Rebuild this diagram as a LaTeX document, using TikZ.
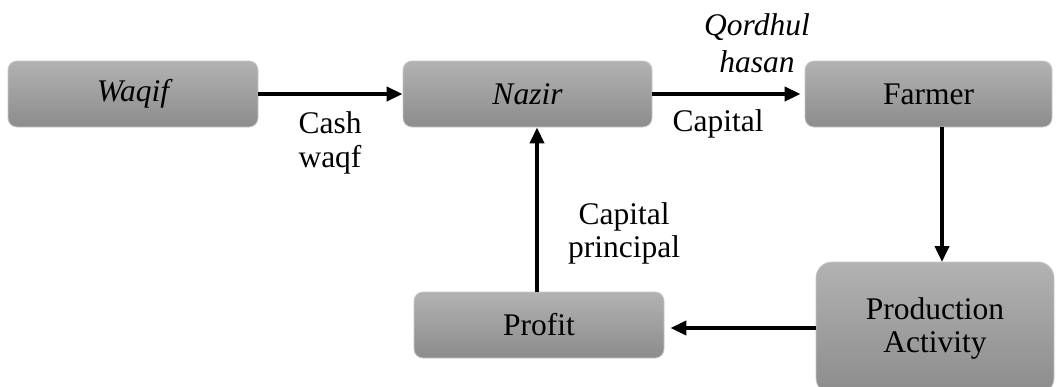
\documentclass[tikz,border=0pt]{standalone}
\usepackage{fontspec}
\setmainfont{Liberation Serif}
\usetikzlibrary{arrows.meta,calc}
\definecolor{boxtop}{HTML}{B2B2B2}
\definecolor{boxbot}{HTML}{8C8C8C}
\definecolor{boxedge}{HTML}{C6C6C6}
\tikzset{
  boxnode/.style={rectangle, rounded corners=9pt, top color=boxtop, bottom color=boxbot,
    draw=boxedge, line width=0.8pt, inner sep=0pt, align=center,
    font=\fontsize{31.5}{33}\selectfont},
  lbl/.style={inner sep=0pt, align=center, font=\fontsize{31.5}{33}\selectfont},
  flow/.style={line width=3.8pt, -{Triangle[length=16pt,width=14pt]}}
}
\begin{document}
\begin{tikzpicture}[x=1pt,y=-1pt]
\useasboundingbox (0,0) rectangle (1056,386);
\node[boxnode, minimum width=250pt, minimum height=66pt] (waqif) at (133,94) {\itshape Waqif};
\node[boxnode, minimum width=249pt, minimum height=66pt] (nazir) at (527.5,94) {\itshape Nazir};
\node[boxnode, minimum width=247pt, minimum height=66pt] (farmer) at (928.5,94) {Farmer};
\node[boxnode, minimum width=250pt, minimum height=66pt] (profit) at (539,325) {Profit};
\node[boxnode, rounded corners=16pt, minimum width=238pt, minimum height=132pt] (prod) at (935,328) {Production\\Activity};
\coordinate (fa) at (942,127);
\coordinate (pa) at (942,262);
\draw[flow] (waqif.east) -- (nazir.west);
\draw[flow] (nazir.east) -- ([xshift=-4pt]farmer.west);
\draw[flow] (fa) -- (pa);
\draw[flow] (prod.west |- 0,328) -- ([xshift=6pt]profit.east |- 0,328);
\draw[flow] (537,292) coordinate (pb) -- (pb |- nazir.south);
\node[lbl] (l1) at (330,143) {Cash\\[1pt]waqf};
\node[lbl] (l2) at (718,124) {Capital};
\node[lbl] (l3) at (757,43) {\itshape Qordhul\\[4pt]\itshape hasan};
\node[lbl] (l4) at (624,233) {Capital\\[0pt]principal};
\end{tikzpicture}
\end{document}
